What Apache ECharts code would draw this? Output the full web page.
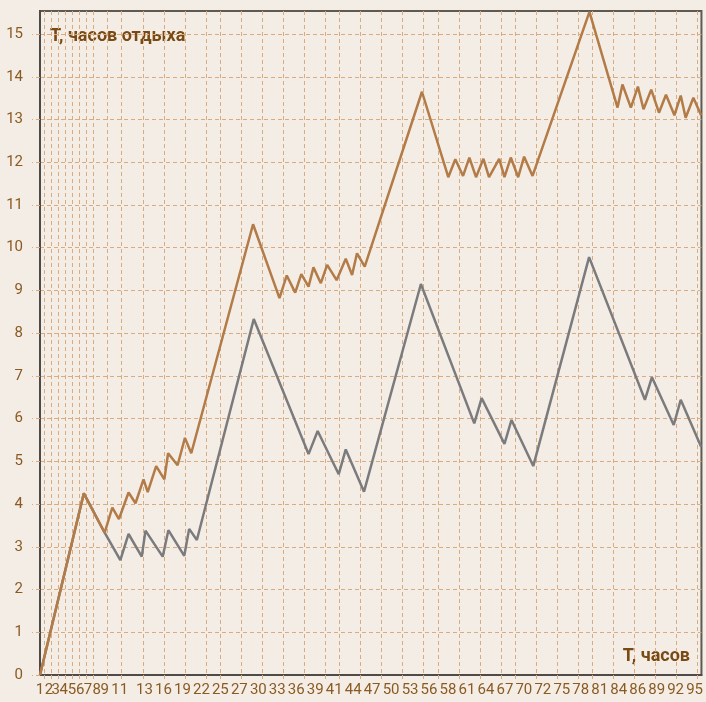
<!DOCTYPE html>
<html>
<head>
<meta charset="utf-8">
<title>T, часов отдыха</title>
<script src="https://cdn.jsdelivr.net/npm/echarts@6/dist/echarts.min.js"></script>
<style>
  html, body { margin: 0; padding: 0; background: #f4ede5; }
  #chart { width: 706px; height: 702px; }
</style>
</head>
<body>
<div id="chart"></div>
<script>
// вершины ломаных: [часы работы, часы отдыха]
const restOrange = [
  [0.36, 0], [6.6, 4.25], [9.57, 3.33], [10.66, 3.92], [11.6, 3.65], [12.97, 4.27],
  [13.96, 4.02], [15.1, 4.58], [15.7, 4.28], [16.9, 4.89], [18.07, 4.58], [18.6, 5.19],
  [19.95, 4.91], [21.0, 5.55], [21.9, 5.19], [30.7, 10.55], [34.46, 8.82], [35.5, 9.35],
  [36.7, 8.95], [37.57, 9.38], [38.6, 9.09], [39.3, 9.54], [40.35, 9.17], [41.25, 9.6],
  [42.6, 9.24], [43.9, 9.74], [44.8, 9.36], [45.5, 9.87], [46.6, 9.56], [54.75, 13.65],
  [58.5, 11.65], [59.5, 12.07], [60.6, 11.68], [61.5, 12.11], [62.45, 11.65], [63.5, 12.08],
  [64.3, 11.65], [65.75, 12.08], [66.5, 11.65], [67.4, 12.11], [68.45, 11.65], [69.3, 12.13],
  [70.5, 11.68], [78.6, 15.52], [82.6, 13.28], [83.3, 13.82], [84.5, 13.28], [85.5, 13.77],
  [86.3, 13.24], [87.4, 13.7], [88.5, 13.16], [89.5, 13.58], [90.7, 13.1], [91.6, 13.56],
  [92.3, 13.04], [93.4, 13.51], [94.5, 13.1]
]
const restGray = [
  [0.36, 0], [6.6, 4.25], [9.57, 3.33], [11.8, 2.69], [12.97, 3.3], [14.85, 2.77],
  [15.38, 3.38], [17.83, 2.77], [18.64, 3.39], [20.9, 2.79], [21.6, 3.42], [22.7, 3.16],
  [30.8, 8.33], [38.6, 5.17], [39.9, 5.71], [42.9, 4.7], [43.9, 5.28], [46.5, 4.29],
  [54.6, 9.15], [62.2, 5.89], [63.25, 6.48], [66.5, 5.41], [67.5, 5.97], [70.6, 4.89],
  [78.55, 9.78], [86.5, 6.44], [87.5, 6.97], [90.6, 5.85], [91.6, 6.44], [94.5, 5.34]
]
// вертикальные линии сетки
const xGridHours = [1, 2, 3, 4, 5, 6, 7, 8, 10, 12, 15, 18, 21, 24, 26, 29, 32, 35, 38, 41, 43,
  46, 49, 52, 55, 57, 60, 63, 66, 68, 71, 74, 77, 79, 82, 85, 88, 91, 94]
// подписи оси X и их места на шкале
const xLabelText = ['1', '2', '3', '4', '5', '6', '7', '8', '9', '11', '13', '16', '19', '22', '25',
  '27', '30', '33', '36', '39', '41', '44', '47', '50', '53', '56', '58', '61', '64', '67', '70',
  '72', '75', '78', '81', '84', '86', '89', '92', '95']
const xLabelPos = [0.36, 1.64, 2.6, 3.74, 4.9, 6.07, 7.2, 8.44, 9.57, 11.7, 15.24, 17.94, 20.64,
  23.34, 26.04, 28.75, 31.45, 34.15, 36.85, 39.55, 42.25, 44.95, 47.65, 50.35, 53.06, 55.76,
  58.46, 61.16, 63.86, 66.56, 69.26, 71.96, 74.67, 77.37, 80.07, 82.77, 85.47, 88.17, 90.87, 93.57]
const yTicks = [0, 1, 2, 3, 4, 5, 6, 7, 8, 9, 10, 11, 12, 13, 14, 15]

const narrow = "'Liberation Sans Narrow', 'Roboto', 'Liberation Sans', sans-serif"
const gridLine = { color: '#d8ab80', width: 1, type: [4, 3] }

let myChart = echarts.init(document.getElementById('chart'))
myChart.setOption({
  animation: false,
  backgroundColor: '#f4ede5',
  grid: {
    left: 40,
    right: 1,
    top: 11,
    bottom: 27,
    show: true,
    borderColor: '#5e5953',
    borderWidth: 2
  },
  xAxis: {
    type: 'value',
    min: 0.36,
    max: 94.55,
    axisLine: { lineStyle: { color: '#4f4a45', width: 2 } },
    axisTick: { customValues: xGridHours, length: 6, lineStyle: gridLine },
    splitLine: { show: true, lineStyle: gridLine },
    axisLabel: {
      customValues: xLabelPos,
      showMinLabel: true,
      showMaxLabel: true,
      hideOverlap: false,
      margin: 8,
      color: '#8a5a22',
      fontSize: 15,
      fontFamily: narrow,
      formatter: function (value) {
        for (let i = 0; i < xLabelPos.length; i++) {
          if (Math.abs(xLabelPos[i] - value) < 1e-6) return xLabelText[i]
        }
        return ''
      }
    }
  },
  yAxis: {
    type: 'value',
    min: 0,
    max: 15.54,
    axisLine: { show: true, lineStyle: { color: '#4f4a45', width: 2 } },
    axisTick: { show: true, customValues: yTicks, length: 8, lineStyle: gridLine },
    splitLine: { show: true, lineStyle: gridLine },
    axisLabel: {
      customValues: yTicks,
      showMinLabel: true,
      margin: 17,
      color: '#8a5a22',
      fontSize: 15,
      fontFamily: narrow
    }
  },
  graphic: [
    {
      type: 'text',
      left: 50,
      top: 27,
      style: { text: 'T, часов отдыха', fill: '#7a4a14', font: "bold 18px " + narrow }
    },
    {
      type: 'text',
      right: 16,
      top: 647,
      style: { text: 'T, часов', fill: '#7a4a14', font: "bold 18px " + narrow }
    }
  ],
  series: [
    {
      type: 'line',
      data: restGray,
      symbol: 'none',
      lineStyle: { color: '#7b7b7e', width: 2.5 },
      z: 3
    },
    {
      type: 'line',
      data: restOrange,
      symbol: 'none',
      lineStyle: { color: '#b27b47', width: 2.5 },
      z: 4
    }
  ]
})
myChart.resize()
</script>
</body>
</html>
